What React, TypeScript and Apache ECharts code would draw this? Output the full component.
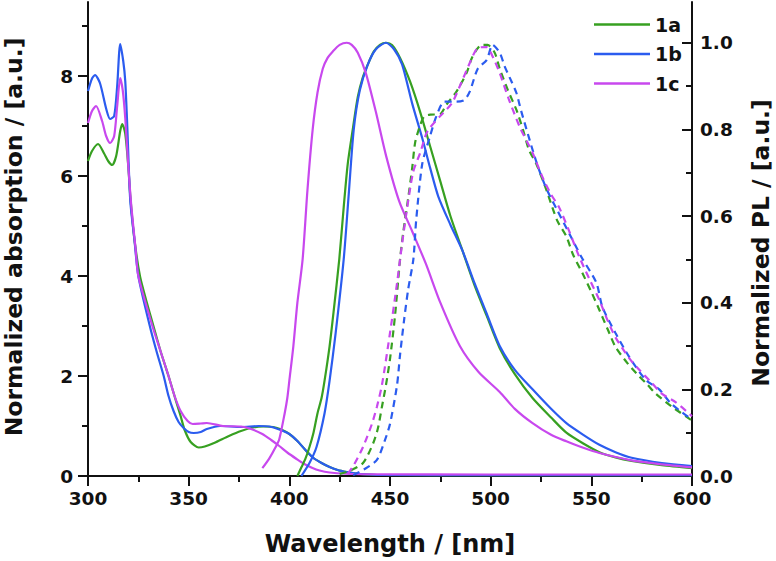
import React, { useEffect, useRef } from 'react';
import * as echarts from 'echarts';

// ---------- data ----------
const xTicks = [300, 350, 400, 450, 500, 550, 600];
const absMajor = [0, 2, 4, 6, 8];
const absMinor = [1, 3, 5, 7, 9];
const plMajor = [0, 0.2, 0.4, 0.6, 0.8, 1.0];
const plMinor = [0.1, 0.3, 0.5, 0.7, 0.9];
const legendNames = ['1a', '1b', '1c'];

// absorption (left axis)
const absWl1a = [300, 302, 305, 308, 310, 312, 314, 316, 317, 318.5, 320, 321, 323, 325.8, 329, 332.5, 336, 340, 343.7, 346, 348, 351, 355, 358, 362.6, 370, 376, 382, 387, 392, 396, 400, 404, 408, 412, 416, 420, 424, 428.5, 433, 437, 445, 500, 600];
const abs1a = [6.3, 6.5, 6.64, 6.45, 6.3, 6.22, 6.4, 6.9, 7.04, 6.85, 6.2, 5.6, 4.75, 4.0, 3.5, 3.0, 2.5, 2.0, 1.5, 1.2, 0.92, 0.68, 0.57, 0.59, 0.66, 0.8, 0.9, 0.97, 0.99, 0.98, 0.93, 0.84, 0.7, 0.52, 0.36, 0.26, 0.18, 0.12, 0.08, 0.05, 0.035, 0.02, 0.015, 0.015];
const absWl1b = [300, 302, 303.5, 306, 309, 311, 313, 314.5, 316, 317.5, 318.5, 319.5, 321, 323, 325, 330.7, 334, 337.6, 340, 342.5, 345, 347.5, 350, 352.5, 356, 359, 365.6, 376, 385, 390, 395, 400, 404, 408, 412, 416, 420, 424, 428.5, 433, 437, 445, 500, 600];
const abs1b = [7.7, 7.95, 8.02, 7.85, 7.35, 7.14, 7.2, 7.8, 8.64, 8.3, 7.9, 7.0, 5.5, 4.75, 4.0, 3.0, 2.5, 2.0, 1.6, 1.3, 1.08, 0.96, 0.88, 0.86, 0.88, 0.94, 1.0, 0.98, 1.0, 0.99, 0.93, 0.84, 0.7, 0.52, 0.36, 0.26, 0.18, 0.12, 0.08, 0.05, 0.035, 0.02, 0.015, 0.015];
const absWl1c = [300, 302, 304, 307, 309, 311, 313, 314.5, 316, 317.3, 318.5, 320, 321.5, 323.5, 325, 332, 336, 340, 343, 346, 349.5, 352, 356, 359, 367, 376, 381, 386.6, 391, 395, 399, 403.6, 407, 411.5, 415, 420, 428, 440, 500, 600];
const abs1c = [7.06, 7.3, 7.4, 7.1, 6.8, 6.66, 6.8, 7.4, 7.96, 7.7, 7.16, 6.2, 5.4, 4.6, 4.0, 3.0, 2.5, 2.0, 1.6, 1.3, 1.1, 1.04, 1.05, 1.06, 1.0, 0.99, 0.94, 0.84, 0.72, 0.6, 0.47, 0.34, 0.25, 0.16, 0.11, 0.07, 0.045, 0.035, 0.03, 0.03];

// normalized PL, solid (right axis)
const plWl1a = [404, 406, 408, 410, 412, 414, 416, 417.5, 420, 422, 424.8, 427, 429, 431.5, 434, 436.5, 439, 442, 445, 448, 451, 455, 460, 465, 470, 475, 480, 486, 492, 498, 504.5, 512, 520.8, 530, 537.6, 546, 554, 562, 570, 585, 600];
const pl1a = [0.0, 0.02, 0.04, 0.067, 0.1, 0.145, 0.18, 0.22, 0.3, 0.38, 0.5, 0.62, 0.72, 0.8, 0.875, 0.92, 0.95, 0.98, 0.995, 1.0, 0.995, 0.965, 0.91, 0.84, 0.76, 0.68, 0.6, 0.52, 0.44, 0.37, 0.295, 0.235, 0.18, 0.135, 0.1, 0.075, 0.055, 0.043, 0.035, 0.025, 0.018];
const plWl1b = [406, 410, 413.5, 417.5, 420, 423, 427, 429.5, 432, 435, 439, 443, 448, 452, 456, 461, 466, 470, 474, 480, 486, 492, 498, 504.5, 512, 520.8, 530, 537.6, 546, 554, 562, 570, 585, 600];
const pl1b = [0.0, 0.03, 0.067, 0.145, 0.22, 0.33, 0.5, 0.65, 0.8, 0.89, 0.95, 0.985, 1.0, 0.985, 0.95, 0.86, 0.78, 0.71, 0.645, 0.58, 0.52, 0.445, 0.375, 0.3, 0.245, 0.2, 0.155, 0.122, 0.095, 0.072, 0.055, 0.042, 0.03, 0.023];
const plWl1c = [386.6, 390, 393, 395, 397.7, 399, 400, 402, 404, 406.6, 409, 411.6, 414, 416.6, 419, 421.6, 425, 428.5, 431, 434, 438, 443, 448, 454.5, 461, 467.8, 475, 484.7, 494, 504.5, 512, 520.8, 530, 537.6, 546, 554, 570, 585, 600];
const pl1c = [0.018, 0.04, 0.065, 0.085, 0.145, 0.18, 0.22, 0.3, 0.4, 0.5, 0.66, 0.8, 0.885, 0.94, 0.965, 0.98, 0.995, 1.0, 0.995, 0.977, 0.93, 0.84, 0.74, 0.635, 0.565, 0.49, 0.4, 0.3, 0.24, 0.194, 0.155, 0.122, 0.095, 0.08, 0.065, 0.053, 0.036, 0.027, 0.02];

// normalized PL, dashed (right axis)
const dWl1a = [425, 430, 436.6, 441.6, 444, 446, 448, 450, 452.5, 455, 456.5, 459, 461, 462.5, 465, 467, 470, 474.8, 478, 483, 488, 491, 495.5, 498.5, 502, 504.5, 508.6, 512.8, 516, 519, 522.7, 527.7, 533, 537.6, 541, 545.5, 550, 554, 558, 562, 568, 573.8, 578, 582, 590, 600];
const d1a = [0.005, 0.012, 0.03, 0.075, 0.11, 0.16, 0.21, 0.27, 0.37, 0.5, 0.56, 0.64, 0.71, 0.77, 0.81, 0.83, 0.834, 0.835, 0.857, 0.887, 0.93, 0.968, 0.995, 0.995, 0.977, 0.94, 0.89, 0.845, 0.8, 0.753, 0.72, 0.66, 0.59, 0.553, 0.51, 0.469, 0.425, 0.383, 0.34, 0.298, 0.26, 0.23, 0.21, 0.19, 0.16, 0.128];
const dWl1b = [431.7, 437, 443.5, 447.5, 450, 453.5, 455, 457, 459, 461.6, 463, 466, 469.8, 473, 477, 483, 487, 489.6, 493.6, 498, 501, 504.5, 507, 509.4, 512.8, 515, 520.8, 524, 528, 533, 539, 545, 552.5, 555.5, 562, 568.8, 577, 583.7, 589, 593.6, 600];
const d1b = [0.002, 0.015, 0.037, 0.083, 0.12, 0.21, 0.28, 0.36, 0.43, 0.5, 0.59, 0.72, 0.783, 0.83, 0.864, 0.864, 0.868, 0.887, 0.94, 0.96, 0.995, 0.977, 0.945, 0.92, 0.884, 0.845, 0.753, 0.707, 0.66, 0.614, 0.56, 0.506, 0.446, 0.39, 0.33, 0.275, 0.222, 0.2, 0.17, 0.152, 0.13];
const dWl1c = [429, 432, 436.6, 441, 443.5, 446, 450, 453.5, 455, 457, 461.4, 465, 468, 470, 474.8, 480.7, 484.7, 489.6, 493.6, 498, 501, 504.5, 509, 514.4, 520.8, 525.7, 530, 534, 539, 544, 549, 554, 558, 562, 568.8, 573.8, 580, 585, 592, 600];
const d1c = [0.005, 0.025, 0.067, 0.12, 0.16, 0.21, 0.33, 0.445, 0.5, 0.57, 0.7, 0.746, 0.79, 0.805, 0.83, 0.86, 0.9, 0.953, 0.988, 0.99, 0.968, 0.93, 0.87, 0.806, 0.746, 0.69, 0.65, 0.62, 0.565, 0.506, 0.455, 0.406, 0.36, 0.32, 0.272, 0.245, 0.215, 0.19, 0.17, 0.138];

const GREEN = '#37a021';
const BLUE = '#2b5cef';
const MAGENTA = '#c848ee';
const FONT = '"DejaVu Sans", "Liberation Sans", Arial, sans-serif';

const zip = (xs: number[], ys: number[]) => xs.map((x, i) => [x, ys[i]]);

export default function App() {
  const ref = useRef<HTMLDivElement>(null);

  useEffect(() => {
    document.body.style.margin = '0';
    if (!ref.current) return;
    const chart = echarts.init(ref.current, undefined, { renderer: 'svg' });

    const lineW = 2.2;
    const mk = (name: string, data: number[][], color: string, yIdx: number, dashed: boolean) => ({
      name,
      type: 'line',
      xAxisIndex: 0,
      yAxisIndex: yIdx,
      data,
      symbol: 'none',
      showSymbol: false,
      smooth: 0.25,
      lineStyle: { color, width: lineW, type: dashed ? [7, 5] : 'solid' },
      itemStyle: { color },
      z: 3,
    });

    const labelStyle = { color: '#111', fontFamily: FONT, fontWeight: 'bold', fontSize: 18.5 };
    const blk = { color: '#111', width: 2 };

    chart.setOption({
      animation: false,
      backgroundColor: '#fff',
      grid: { left: 88, right: 84, top: 2, bottom: 85 },
      legend: {
        data: legendNames.map((n) => ({ name: n, icon: 'rect' })),
        orient: 'vertical',
        left: 589,
        top: 10,
        itemWidth: 56,
        itemHeight: 2.6,
        itemGap: 10.5,
        textStyle: { color: '#111', fontFamily: FONT, fontWeight: 'bold', fontSize: 19, lineHeight: 19 },
      },
      xAxis: [
        {
          type: 'value',
          position: 'bottom',
          min: 300,
          max: 600,
          interval: 50,
          axisLine: { show: true, lineStyle: blk },
          axisTick: { show: true, length: 10, lineStyle: blk, customValues: xTicks },
          minorTick: { show: true, splitNumber: 2, length: 6, lineStyle: blk },
          axisLabel: { ...labelStyle, margin: 13, customValues: xTicks },
          splitLine: { show: false },
        },
        {
          type: 'value',
          position: 'top',
          min: 300,
          max: 600,
          axisLine: { show: true, lineStyle: blk },
          axisTick: { show: false },
          axisLabel: { show: false },
          splitLine: { show: false },
        },
      ],
      yAxis: [
        {
          type: 'value',
          position: 'left',
          min: 0,
          max: 9.48,
          interval: 2,
          axisLine: { show: true, lineStyle: blk },
          axisTick: { show: true, length: 10, lineStyle: blk, customValues: absMajor },
          axisLabel: { ...labelStyle, margin: 15, customValues: absMajor },
          splitLine: { show: false },
        },
        {
          type: 'value',
          position: 'left',
          min: 0,
          max: 9.48,
          interval: 1,
          axisLine: { show: false },
          axisTick: { show: true, length: 6, lineStyle: blk, customValues: absMinor },
          axisLabel: { show: false, customValues: absMinor },
          splitLine: { show: false },
        },
        {
          type: 'value',
          position: 'right',
          min: 0,
          max: 1.094,
          interval: 0.2,
          axisLine: { show: true, lineStyle: blk },
          axisTick: { show: true, inside: true, length: 10, lineStyle: blk, customValues: plMajor },
          axisLabel: {
            ...labelStyle,
            margin: 8,
            customValues: plMajor,
            formatter: (v: number) => v.toFixed(1),
          },
          splitLine: { show: false },
        },
        {
          type: 'value',
          position: 'right',
          min: 0,
          max: 1.094,
          interval: 0.1,
          axisLine: { show: false },
          axisTick: { show: true, inside: true, length: 6, lineStyle: blk, customValues: plMinor },
          axisLabel: { show: false, customValues: plMinor },
          splitLine: { show: false },
        },
      ],
      graphic: [
        {
          type: 'text',
          x: 390,
          y: 544,
          style: {
            text: 'Wavelength / [nm]',
            fill: '#111',
            font: `bold 24px ${FONT}`,
            align: 'center',
            verticalAlign: 'middle',
          },
        },
        {
          type: 'text',
          x: 14,
          y: 237,
          rotation: Math.PI / 2,
          style: {
            text: 'Normalized absorption / [a.u.]',
            fill: '#111',
            font: `bold 23.5px ${FONT}`,
            align: 'center',
            verticalAlign: 'middle',
          },
        },
        {
          type: 'text',
          x: 761,
          y: 243,
          rotation: Math.PI / 2,
          style: {
            text: 'Normalized PL / [a.u.]',
            fill: '#111',
            font: `bold 23.5px ${FONT}`,
            align: 'center',
            verticalAlign: 'middle',
          },
        },
      ],
      series: [
        mk('1a', zip(absWl1a, abs1a), GREEN, 0, false),
        mk('1b', zip(absWl1b, abs1b), BLUE, 0, false),
        mk('1c', zip(absWl1c, abs1c), MAGENTA, 0, false),
        mk('PL 1a', zip(plWl1a, pl1a), GREEN, 2, false),
        mk('PL 1b', zip(plWl1b, pl1b), BLUE, 2, false),
        mk('PL 1c', zip(plWl1c, pl1c), MAGENTA, 2, false),
        mk('PL 1a dashed', zip(dWl1a, d1a), GREEN, 2, true),
        mk('PL 1b dashed', zip(dWl1b, d1b), BLUE, 2, true),
        mk('PL 1c dashed', zip(dWl1c, d1c), MAGENTA, 2, true),
      ],
    });

    return () => chart.dispose();
  }, []);

  return <div ref={ref} style={{ width: 776, height: 561 }} />;
}
